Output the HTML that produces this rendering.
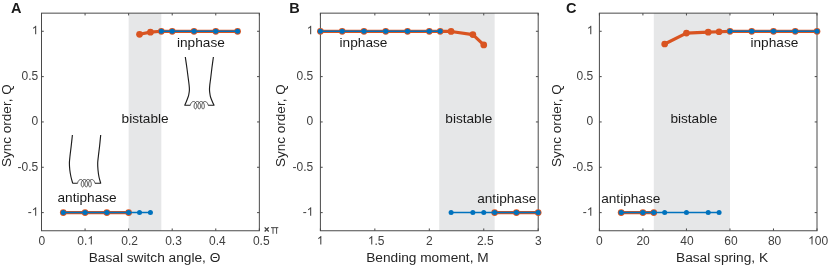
<!DOCTYPE html>
<html><head><meta charset="utf-8"><title>Figure</title>
<style>html,body{margin:0;padding:0;background:#fff;width:830px;height:267px;overflow:hidden}</style>
</head><body>
<svg width="830" height="267" viewBox="0 0 830 267" style="display:block;position:absolute;left:0;top:0" font-family="Liberation Sans, sans-serif">
<rect x="0" y="0" width="830" height="267" fill="#ffffff"/>
<rect x="128.64" y="13.15" width="32.68" height="217.60" fill="#e6e7e8"/>
<rect x="41.50" y="13.15" width="217.85" height="217.60" fill="none" stroke="#4a4a4a" stroke-width="1"/>
<path d="M41.50 230.75v-2.3M41.50 13.15v2.3M85.07 230.75v-2.3M85.07 13.15v2.3M128.64 230.75v-2.3M128.64 13.15v2.3M172.21 230.75v-2.3M172.21 13.15v2.3M215.78 230.75v-2.3M215.78 13.15v2.3M259.35 230.75v-2.3M259.35 13.15v2.3M41.50 31.28h2.3M259.35 31.28h-2.3M41.50 76.62h2.3M259.35 76.62h-2.3M41.50 121.95h2.3M259.35 121.95h-2.3M41.50 167.28h2.3M259.35 167.28h-2.3M41.50 212.62h2.3M259.35 212.62h-2.3" stroke="#4a4a4a" stroke-width="1" fill="none"/>
<path d="M139.53 34.28L150.43 32.19L161.32 31.28L172.21 31.28L194.00 31.28L215.78 31.28L237.57 31.28" stroke="#D95421" stroke-width="3.2" fill="none" stroke-linejoin="round"/><circle cx="139.53" cy="34.28" r="3.35" fill="#D95421"/><circle cx="150.43" cy="32.19" r="3.35" fill="#D95421"/><circle cx="161.32" cy="31.28" r="3.35" fill="#D95421"/><circle cx="172.21" cy="31.28" r="3.35" fill="#D95421"/><circle cx="194.00" cy="31.28" r="3.35" fill="#D95421"/><circle cx="215.78" cy="31.28" r="3.35" fill="#D95421"/><circle cx="237.57" cy="31.28" r="3.35" fill="#D95421"/>
<path d="M63.29 212.62L85.07 212.62L106.86 212.62L128.64 212.62" stroke="#D95421" stroke-width="3.2" fill="none" stroke-linejoin="round"/><circle cx="63.29" cy="212.62" r="3.35" fill="#D95421"/><circle cx="85.07" cy="212.62" r="3.35" fill="#D95421"/><circle cx="106.86" cy="212.62" r="3.35" fill="#D95421"/><circle cx="128.64" cy="212.62" r="3.35" fill="#D95421"/>
<path d="M161.32 31.28L172.21 31.28L194.00 31.28L215.78 31.28L237.57 31.28" stroke="#0072BD" stroke-width="1.5" fill="none" stroke-linejoin="round"/><circle cx="161.32" cy="31.28" r="2.5" fill="#0072BD"/><circle cx="172.21" cy="31.28" r="2.5" fill="#0072BD"/><circle cx="194.00" cy="31.28" r="2.5" fill="#0072BD"/><circle cx="215.78" cy="31.28" r="2.5" fill="#0072BD"/><circle cx="237.57" cy="31.28" r="2.5" fill="#0072BD"/>
<path d="M63.29 212.62L85.07 212.62L106.86 212.62L128.64 212.62L139.53 212.62L150.43 212.62" stroke="#0072BD" stroke-width="1.5" fill="none" stroke-linejoin="round"/><circle cx="63.29" cy="212.62" r="2.5" fill="#0072BD"/><circle cx="85.07" cy="212.62" r="2.5" fill="#0072BD"/><circle cx="106.86" cy="212.62" r="2.5" fill="#0072BD"/><circle cx="128.64" cy="212.62" r="2.5" fill="#0072BD"/><circle cx="139.53" cy="212.62" r="2.5" fill="#0072BD"/><circle cx="150.43" cy="212.62" r="2.5" fill="#0072BD"/>
<rect x="439.21" y="13.15" width="55.43" height="217.60" fill="#e6e7e8"/>
<rect x="320.40" y="13.15" width="217.80" height="217.60" fill="none" stroke="#4a4a4a" stroke-width="1"/>
<path d="M320.40 230.75v-2.3M320.40 13.15v2.3M374.85 230.75v-2.3M374.85 13.15v2.3M429.30 230.75v-2.3M429.30 13.15v2.3M483.75 230.75v-2.3M483.75 13.15v2.3M538.20 230.75v-2.3M538.20 13.15v2.3M320.40 31.28h2.3M538.20 31.28h-2.3M320.40 76.62h2.3M538.20 76.62h-2.3M320.40 121.95h2.3M538.20 121.95h-2.3M320.40 167.28h2.3M538.20 167.28h-2.3M320.40 212.62h2.3M538.20 212.62h-2.3" stroke="#4a4a4a" stroke-width="1" fill="none"/>
<path d="M320.40 31.28L342.18 31.28L363.96 31.28L385.74 31.28L407.52 31.28L429.30 31.28L440.19 31.28L451.08 31.46L472.86 34.55L483.75 44.88" stroke="#D95421" stroke-width="3.2" fill="none" stroke-linejoin="round"/><circle cx="320.40" cy="31.28" r="3.35" fill="#D95421"/><circle cx="342.18" cy="31.28" r="3.35" fill="#D95421"/><circle cx="363.96" cy="31.28" r="3.35" fill="#D95421"/><circle cx="385.74" cy="31.28" r="3.35" fill="#D95421"/><circle cx="407.52" cy="31.28" r="3.35" fill="#D95421"/><circle cx="429.30" cy="31.28" r="3.35" fill="#D95421"/><circle cx="440.19" cy="31.28" r="3.35" fill="#D95421"/><circle cx="451.08" cy="31.46" r="3.35" fill="#D95421"/><circle cx="472.86" cy="34.55" r="3.35" fill="#D95421"/><circle cx="483.75" cy="44.88" r="3.35" fill="#D95421"/>
<path d="M494.64 212.62L516.42 212.62L538.20 212.62" stroke="#D95421" stroke-width="3.2" fill="none" stroke-linejoin="round"/><circle cx="494.64" cy="212.62" r="3.35" fill="#D95421"/><circle cx="516.42" cy="212.62" r="3.35" fill="#D95421"/><circle cx="538.20" cy="212.62" r="3.35" fill="#D95421"/>
<path d="M320.40 31.28L342.18 31.28L363.96 31.28L385.74 31.28L407.52 31.28L429.30 31.28L440.19 31.28" stroke="#0072BD" stroke-width="1.5" fill="none" stroke-linejoin="round"/><circle cx="320.40" cy="31.28" r="2.5" fill="#0072BD"/><circle cx="342.18" cy="31.28" r="2.5" fill="#0072BD"/><circle cx="363.96" cy="31.28" r="2.5" fill="#0072BD"/><circle cx="385.74" cy="31.28" r="2.5" fill="#0072BD"/><circle cx="407.52" cy="31.28" r="2.5" fill="#0072BD"/><circle cx="429.30" cy="31.28" r="2.5" fill="#0072BD"/><circle cx="440.19" cy="31.28" r="2.5" fill="#0072BD"/>
<path d="M451.08 212.62L472.86 212.62L483.75 212.62L494.64 212.62L516.42 212.62L538.20 212.62" stroke="#0072BD" stroke-width="1.5" fill="none" stroke-linejoin="round"/><circle cx="451.08" cy="212.62" r="2.5" fill="#0072BD"/><circle cx="472.86" cy="212.62" r="2.5" fill="#0072BD"/><circle cx="483.75" cy="212.62" r="2.5" fill="#0072BD"/><circle cx="494.64" cy="212.62" r="2.5" fill="#0072BD"/><circle cx="516.42" cy="212.62" r="2.5" fill="#0072BD"/><circle cx="538.20" cy="212.62" r="2.5" fill="#0072BD"/>
<rect x="653.80" y="13.15" width="76.16" height="217.60" fill="#e6e7e8"/>
<rect x="599.40" y="13.15" width="217.60" height="217.60" fill="none" stroke="#4a4a4a" stroke-width="1"/>
<path d="M599.40 230.75v-2.3M599.40 13.15v2.3M642.92 230.75v-2.3M642.92 13.15v2.3M686.44 230.75v-2.3M686.44 13.15v2.3M729.96 230.75v-2.3M729.96 13.15v2.3M773.48 230.75v-2.3M773.48 13.15v2.3M817.00 230.75v-2.3M817.00 13.15v2.3M599.40 31.28h2.3M817.00 31.28h-2.3M599.40 76.62h2.3M817.00 76.62h-2.3M599.40 121.95h2.3M817.00 121.95h-2.3M599.40 167.28h2.3M817.00 167.28h-2.3M599.40 212.62h2.3M817.00 212.62h-2.3" stroke="#4a4a4a" stroke-width="1" fill="none"/>
<path d="M664.68 43.98L686.44 33.10L708.20 32.19L719.08 31.74L729.96 31.28L751.72 31.28L773.48 31.28L795.24 31.28L817.00 31.28" stroke="#D95421" stroke-width="3.2" fill="none" stroke-linejoin="round"/><circle cx="664.68" cy="43.98" r="3.35" fill="#D95421"/><circle cx="686.44" cy="33.10" r="3.35" fill="#D95421"/><circle cx="708.20" cy="32.19" r="3.35" fill="#D95421"/><circle cx="719.08" cy="31.74" r="3.35" fill="#D95421"/><circle cx="729.96" cy="31.28" r="3.35" fill="#D95421"/><circle cx="751.72" cy="31.28" r="3.35" fill="#D95421"/><circle cx="773.48" cy="31.28" r="3.35" fill="#D95421"/><circle cx="795.24" cy="31.28" r="3.35" fill="#D95421"/><circle cx="817.00" cy="31.28" r="3.35" fill="#D95421"/>
<path d="M621.16 212.62L642.92 212.62L653.80 212.62" stroke="#D95421" stroke-width="3.2" fill="none" stroke-linejoin="round"/><circle cx="621.16" cy="212.62" r="3.35" fill="#D95421"/><circle cx="642.92" cy="212.62" r="3.35" fill="#D95421"/><circle cx="653.80" cy="212.62" r="3.35" fill="#D95421"/>
<path d="M729.96 31.28L751.72 31.28L773.48 31.28L795.24 31.28L817.00 31.28" stroke="#0072BD" stroke-width="1.5" fill="none" stroke-linejoin="round"/><circle cx="729.96" cy="31.28" r="2.5" fill="#0072BD"/><circle cx="751.72" cy="31.28" r="2.5" fill="#0072BD"/><circle cx="773.48" cy="31.28" r="2.5" fill="#0072BD"/><circle cx="795.24" cy="31.28" r="2.5" fill="#0072BD"/><circle cx="817.00" cy="31.28" r="2.5" fill="#0072BD"/>
<path d="M621.16 212.62L642.92 212.62L653.80 212.62L664.68 212.62L686.44 212.62L708.20 212.62L719.08 212.62" stroke="#0072BD" stroke-width="1.5" fill="none" stroke-linejoin="round"/><circle cx="621.16" cy="212.62" r="2.5" fill="#0072BD"/><circle cx="642.92" cy="212.62" r="2.5" fill="#0072BD"/><circle cx="653.80" cy="212.62" r="2.5" fill="#0072BD"/><circle cx="664.68" cy="212.62" r="2.5" fill="#0072BD"/><circle cx="686.44" cy="212.62" r="2.5" fill="#0072BD"/><circle cx="708.20" cy="212.62" r="2.5" fill="#0072BD"/><circle cx="719.08" cy="212.62" r="2.5" fill="#0072BD"/>
<path d="M264.65 227.4L268.75 231.5M268.75 227.4L264.65 231.5" stroke="#404040" stroke-width="1.3" fill="none"/><path d="M271.0 227.65H278.3M273.0 227.7V233.8M276.6 227.7V233.8" stroke="#404040" stroke-width="0.95" fill="none"/>
<path d="M185.30 57.00C185.57 58.83 186.42 64.50 186.90 68.00C187.38 71.50 187.83 75.17 188.20 78.00C188.57 80.83 188.90 83.00 189.10 85.00C189.30 87.00 189.47 88.33 189.40 90.00C189.33 91.67 188.95 93.75 188.70 95.00C188.45 96.25 188.28 96.42 187.90 97.50C187.52 98.58 186.92 100.22 186.40 101.50C185.88 102.78 185.07 104.58 184.80 105.20H190.40" stroke="#1c1c1c" stroke-width="1.15" fill="none" stroke-linejoin="round"/><path d="M213.40 57.00C213.15 58.83 212.35 64.50 211.90 68.00C211.45 71.50 211.05 75.17 210.70 78.00C210.35 80.83 210.00 83.00 209.80 85.00C209.60 87.00 209.45 88.33 209.50 90.00C209.55 91.67 209.90 93.75 210.10 95.00C210.30 96.25 210.33 96.42 210.70 97.50C211.07 98.58 211.75 100.22 212.30 101.50C212.85 102.78 213.72 104.58 214.00 105.20H208.10" stroke="#1c1c1c" stroke-width="1.15" fill="none" stroke-linejoin="round"/><path d="M190.40 105.20L190.52 104.62L190.70 104.06L190.92 103.52L191.20 103.03L191.52 102.58L191.88 102.21L192.27 101.90L192.68 101.68L193.11 101.55L193.55 101.50L193.99 101.55L194.42 101.68L194.83 101.90L195.22 102.21L195.58 102.58L195.90 103.03L196.18 103.52L196.40 104.06L196.58 104.62L196.70 105.20L196.77 105.78L196.78 106.34L196.75 106.88L196.66 107.37L196.53 107.82L196.36 108.19L196.16 108.50L195.94 108.72L195.70 108.85L195.45 108.90L195.20 108.85L194.96 108.72L194.74 108.50L194.54 108.19L194.37 107.82L194.24 107.37L194.15 106.88L194.12 106.34L194.13 105.78L194.20 105.20L194.32 104.62L194.50 104.06L194.72 103.52L195.00 103.03L195.32 102.58L195.68 102.21L196.07 101.90L196.48 101.68L196.91 101.55L197.35 101.50L197.79 101.55L198.22 101.68L198.63 101.90L199.02 102.21L199.38 102.58L199.70 103.03L199.98 103.52L200.20 104.06L200.38 104.62L200.50 105.20L200.57 105.78L200.58 106.34L200.55 106.88L200.46 107.37L200.33 107.82L200.16 108.19L199.96 108.50L199.74 108.72L199.50 108.85L199.25 108.90L199.00 108.85L198.76 108.72L198.54 108.50L198.34 108.19L198.17 107.82L198.04 107.37L197.95 106.88L197.92 106.34L197.93 105.78L198.00 105.20L198.12 104.62L198.30 104.06L198.52 103.52L198.80 103.03L199.12 102.58L199.48 102.21L199.87 101.90L200.28 101.68L200.71 101.55L201.15 101.50L201.59 101.55L202.02 101.68L202.43 101.90L202.82 102.21L203.18 102.58L203.50 103.03L203.78 103.52L204.00 104.06L204.18 104.62L204.30 105.20L204.37 105.78L204.38 106.34L204.35 106.88L204.26 107.37L204.13 107.82L203.96 108.19L203.76 108.50L203.54 108.72L203.30 108.85L203.05 108.90L202.80 108.85L202.56 108.72L202.34 108.50L202.14 108.19L201.97 107.82L201.84 107.37L201.75 106.88L201.72 106.34L201.73 105.78L201.80 105.20L201.92 104.62L202.10 104.06L202.32 103.52L202.60 103.03L202.92 102.58L203.28 102.21L203.67 101.90L204.08 101.68L204.51 101.55L204.95 101.50L205.39 101.55L205.82 101.68L206.23 101.90L206.62 102.21L206.98 102.58L207.30 103.03L207.58 103.52L207.80 104.06L207.98 104.62L208.10 105.20" stroke="#1c1c1c" stroke-width="0.75" fill="none" stroke-linejoin="round"/>
<path d="M72.40 135.00C72.20 136.83 71.60 142.50 71.20 146.00C70.80 149.50 70.30 153.17 70.00 156.00C69.70 158.83 69.43 160.67 69.40 163.00C69.37 165.33 69.53 167.67 69.80 170.00C70.07 172.33 70.52 174.80 71.00 177.00C71.48 179.20 72.42 182.17 72.70 183.20H77.60" stroke="#1c1c1c" stroke-width="1.15" fill="none" stroke-linejoin="round"/><path d="M100.70 135.00C100.52 136.83 99.98 142.50 99.60 146.00C99.22 149.50 98.72 153.17 98.40 156.00C98.08 158.83 97.77 160.67 97.70 163.00C97.63 165.33 97.78 167.67 98.00 170.00C98.22 172.33 98.55 174.80 99.00 177.00C99.45 179.20 100.42 182.17 100.70 183.20H94.90" stroke="#1c1c1c" stroke-width="1.15" fill="none" stroke-linejoin="round"/><path d="M77.60 183.20L77.72 182.62L77.89 182.06L78.12 181.52L78.39 181.03L78.71 180.58L79.06 180.21L79.45 179.90L79.86 179.68L80.29 179.55L80.72 179.50L81.16 179.55L81.59 179.68L82.00 179.90L82.38 180.21L82.74 180.58L83.05 181.03L83.33 181.52L83.55 182.06L83.72 182.62L83.84 183.20L83.91 183.78L83.92 184.34L83.88 184.88L83.79 185.37L83.66 185.82L83.49 186.19L83.29 186.50L83.06 186.72L82.82 186.85L82.56 186.90L82.31 186.85L82.07 186.72L81.84 186.50L81.64 186.19L81.47 185.82L81.34 185.37L81.25 184.88L81.21 184.34L81.22 183.78L81.29 183.20L81.40 182.62L81.58 182.06L81.80 181.52L82.07 181.03L82.39 180.58L82.75 180.21L83.13 179.90L83.54 179.68L83.97 179.55L84.41 179.50L84.84 179.55L85.27 179.68L85.68 179.90L86.07 180.21L86.42 180.58L86.74 181.03L87.01 181.52L87.24 182.06L87.41 182.62L87.53 183.20L87.59 183.78L87.61 184.34L87.57 184.88L87.48 185.37L87.34 185.82L87.17 186.19L86.97 186.50L86.75 186.72L86.50 186.85L86.25 186.90L86.00 186.85L85.75 186.72L85.53 186.50L85.33 186.19L85.16 185.82L85.02 185.37L84.93 184.88L84.89 184.34L84.91 183.78L84.97 183.20L85.09 182.62L85.26 182.06L85.49 181.52L85.76 181.03L86.08 180.58L86.43 180.21L86.82 179.90L87.23 179.68L87.66 179.55L88.09 179.50L88.53 179.55L88.96 179.68L89.37 179.90L89.75 180.21L90.11 180.58L90.43 181.03L90.70 181.52L90.92 182.06L91.10 182.62L91.21 183.20L91.28 183.78L91.29 184.34L91.25 184.88L91.16 185.37L91.03 185.82L90.86 186.19L90.66 186.50L90.43 186.72L90.19 186.85L89.94 186.90L89.68 186.85L89.44 186.72L89.21 186.50L89.01 186.19L88.84 185.82L88.71 185.37L88.62 184.88L88.58 184.34L88.59 183.78L88.66 183.20L88.78 182.62L88.95 182.06L89.17 181.52L89.45 181.03L89.76 180.58L90.12 180.21L90.50 179.90L90.91 179.68L91.34 179.55L91.78 179.50L92.21 179.55L92.64 179.68L93.05 179.90L93.44 180.21L93.79 180.58L94.11 181.03L94.38 181.52L94.61 182.06L94.78 182.62L94.90 183.20" stroke="#1c1c1c" stroke-width="0.75" fill="none" stroke-linejoin="round"/>
<g style="filter:grayscale(1)"><text x="41.80" y="244.60" font-size="12" fill="#404040" text-anchor="middle">0</text><text x="77.35" y="244.60" font-size="12" fill="#404040">0</text><text x="84.02" y="244.60" font-size="12" fill="#404040">.</text><path transform="translate(87.36 244.60) scale(0.00586 -0.00586)" d="M763 0H583V1147Q518 1085 412.5 1023Q307 961 223 930V1104Q374 1175 487 1276Q600 1377 647 1472H763Z" fill="#404040"/><text x="129.58" y="244.60" font-size="12" fill="#404040" text-anchor="middle">0.2</text><text x="173.47" y="244.60" font-size="12" fill="#404040" text-anchor="middle">0.3</text><text x="217.36" y="244.60" font-size="12" fill="#404040" text-anchor="middle">0.4</text><text x="261.25" y="244.60" font-size="12" fill="#404040" text-anchor="middle">0.5</text><path transform="translate(31.73 34.28) scale(0.00586 -0.00586)" d="M763 0H583V1147Q518 1085 412.5 1023Q307 961 223 930V1104Q374 1175 487 1276Q600 1377 647 1472H763Z" fill="#404040"/><text x="38.20" y="79.82" font-size="12" fill="#404040" text-anchor="end">0.5</text><text x="38.20" y="124.90" font-size="12" fill="#404040" text-anchor="end">0</text><text x="38.20" y="171.13" font-size="12" fill="#404040" text-anchor="end">-0.5</text><text x="27.73" y="215.82" font-size="12" fill="#404040">-</text><path transform="translate(31.73 215.82) scale(0.00586 -0.00586)" d="M763 0H583V1147Q518 1085 412.5 1023Q307 961 223 930V1104Q374 1175 487 1276Q600 1377 647 1472H763Z" fill="#404040"/><text x="11.1" y="13.0" font-size="14.5" font-weight="bold" fill="#1a1a1a">A</text><text x="88.7" y="262.4" font-size="13.7" fill="#262626">Basal switch angle, Θ</text><text transform="translate(10.90 166.9) rotate(-90)" font-size="13.5" fill="#262626">Sync order, Q</text><text x="177.0" y="47.3" font-size="13.65" fill="#1a1a1a">inphase</text><text x="121.6" y="122.9" font-size="13.65" fill="#1a1a1a">bistable</text><text x="57.5" y="202.3" font-size="13.65" fill="#1a1a1a">antiphase</text><path transform="translate(316.86 244.60) scale(0.00586 -0.00586)" d="M763 0H583V1147Q518 1085 412.5 1023Q307 961 223 930V1104Q374 1175 487 1276Q600 1377 647 1472H763Z" fill="#404040"/><path transform="translate(367.81 244.60) scale(0.00586 -0.00586)" d="M763 0H583V1147Q518 1085 412.5 1023Q307 961 223 930V1104Q374 1175 487 1276Q600 1377 647 1472H763Z" fill="#404040"/><text x="374.48" y="244.60" font-size="12" fill="#404040">.</text><text x="377.82" y="244.60" font-size="12" fill="#404040">5</text><text x="429.40" y="244.60" font-size="12" fill="#404040" text-anchor="middle">2</text><text x="485.25" y="244.60" font-size="12" fill="#404040" text-anchor="middle">2.5</text><text x="538.30" y="244.60" font-size="12" fill="#404040" text-anchor="middle">3</text><path transform="translate(306.73 34.28) scale(0.00586 -0.00586)" d="M763 0H583V1147Q518 1085 412.5 1023Q307 961 223 930V1104Q374 1175 487 1276Q600 1377 647 1472H763Z" fill="#404040"/><text x="313.20" y="79.82" font-size="12" fill="#404040" text-anchor="end">0.5</text><text x="313.20" y="124.90" font-size="12" fill="#404040" text-anchor="end">0</text><text x="313.20" y="171.13" font-size="12" fill="#404040" text-anchor="end">-0.5</text><text x="302.73" y="215.82" font-size="12" fill="#404040">-</text><path transform="translate(306.73 215.82) scale(0.00586 -0.00586)" d="M763 0H583V1147Q518 1085 412.5 1023Q307 961 223 930V1104Q374 1175 487 1276Q600 1377 647 1472H763Z" fill="#404040"/><text x="289.3" y="13.0" font-size="14.5" font-weight="bold" fill="#1a1a1a">B</text><text x="366.2" y="262.4" font-size="13.7" fill="#262626">Bending moment, M</text><text transform="translate(285.40 166.9) rotate(-90)" font-size="13.5" fill="#262626">Sync order, Q</text><text x="339.6" y="47.3" font-size="13.65" fill="#1a1a1a">inphase</text><text x="445.3" y="122.9" font-size="13.65" fill="#1a1a1a">bistable</text><text x="477.2" y="202.5" font-size="13.65" fill="#1a1a1a">antiphase</text><text x="599.30" y="244.60" font-size="12" fill="#404040" text-anchor="middle">0</text><text x="643.12" y="244.60" font-size="12" fill="#404040" text-anchor="middle">20</text><text x="686.99" y="244.60" font-size="12" fill="#404040" text-anchor="middle">40</text><text x="730.96" y="244.60" font-size="12" fill="#404040" text-anchor="middle">60</text><text x="774.58" y="244.60" font-size="12" fill="#404040" text-anchor="middle">80</text><path transform="translate(808.09 244.60) scale(0.00586 -0.00586)" d="M763 0H583V1147Q518 1085 412.5 1023Q307 961 223 930V1104Q374 1175 487 1276Q600 1377 647 1472H763Z" fill="#404040"/><text x="814.76" y="244.60" font-size="12" fill="#404040">0</text><text x="821.44" y="244.60" font-size="12" fill="#404040">0</text><path transform="translate(586.83 34.28) scale(0.00586 -0.00586)" d="M763 0H583V1147Q518 1085 412.5 1023Q307 961 223 930V1104Q374 1175 487 1276Q600 1377 647 1472H763Z" fill="#404040"/><text x="593.30" y="79.82" font-size="12" fill="#404040" text-anchor="end">0.5</text><text x="593.30" y="124.90" font-size="12" fill="#404040" text-anchor="end">0</text><text x="593.30" y="171.13" font-size="12" fill="#404040" text-anchor="end">-0.5</text><text x="582.83" y="215.82" font-size="12" fill="#404040">-</text><path transform="translate(586.83 215.82) scale(0.00586 -0.00586)" d="M763 0H583V1147Q518 1085 412.5 1023Q307 961 223 930V1104Q374 1175 487 1276Q600 1377 647 1472H763Z" fill="#404040"/><text x="566.0" y="13.0" font-size="14.5" font-weight="bold" fill="#1a1a1a">C</text><text x="676.0" y="262.4" font-size="13.7" fill="#262626">Basal spring, K</text><text transform="translate(560.80 166.9) rotate(-90)" font-size="13.5" fill="#262626">Sync order, Q</text><text x="750.5" y="47.3" font-size="13.65" fill="#1a1a1a">inphase</text><text x="670.4" y="122.9" font-size="13.65" fill="#1a1a1a">bistable</text><text x="601.2" y="202.5" font-size="13.65" fill="#1a1a1a">antiphase</text></g>
</svg>
</body></html>
